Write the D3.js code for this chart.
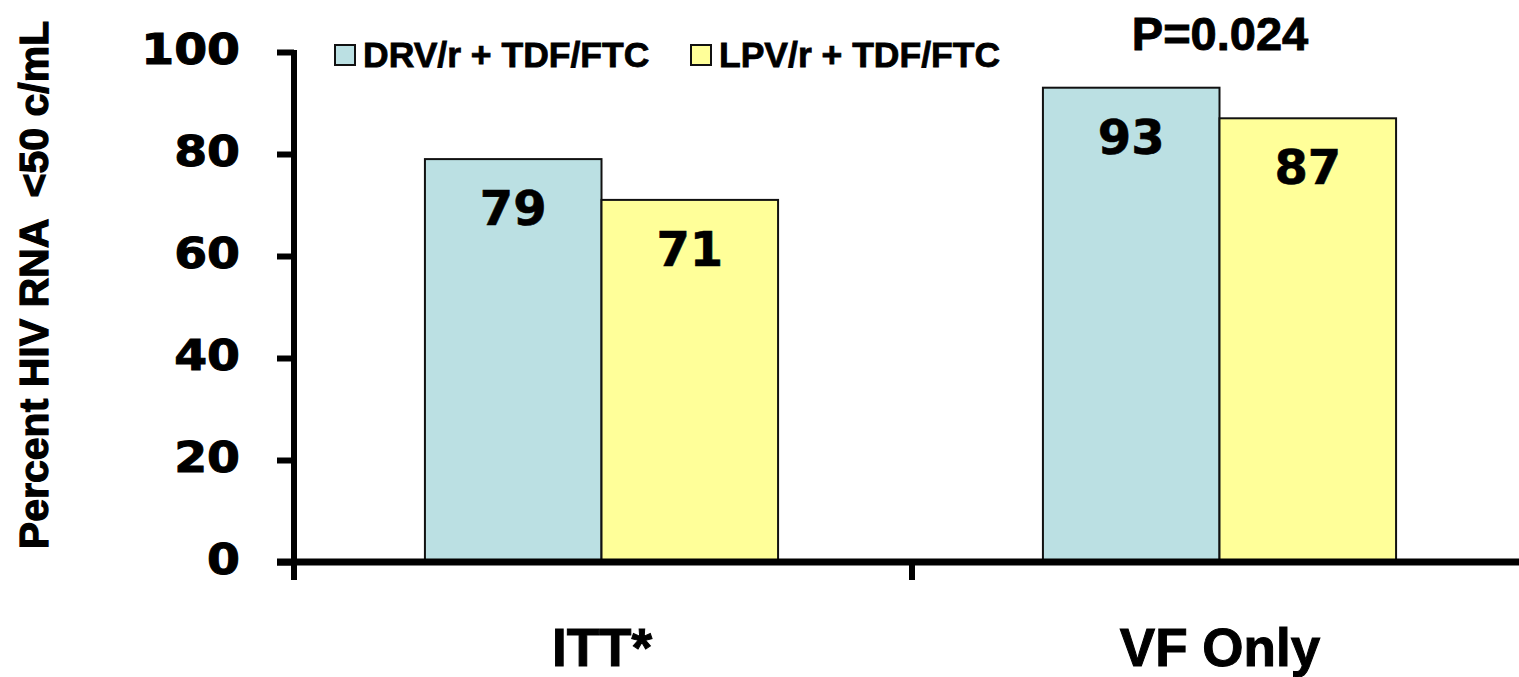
<!DOCTYPE html>
<html>
<head>
<meta charset="utf-8">
<script src="https://cdn.jsdelivr.net/npm/d3@7"></script>
<style>
  html, body { margin: 0; padding: 0; background: #ffffff; }
  svg { display: block; }
</style>
</head>
<body>
<svg id="chart" width="1519" height="677"></svg>
<script>
// Virologic response by analysis population
const categories = ["ITT*", "VF Only"];
const seriesNames = ["DRV/r + TDF/FTC", "LPV/r + TDF/FTC"];
const drvValues = [79, 93];
const lpvValues = [71, 87];
const yTicks = [0, 20, 40, 60, 80, 100];
const pValueLabel = "P=0.024";
const yTitle = "Percent HIV RNA  <50 c/mL";
const seriesColors = ["#BBE0E3", "#FFFF99"];

const svg = d3.select("#chart");

const y = d3.scaleLinear().domain([0, 100]).range([562, 52]);
const x = d3.scaleBand().domain(categories).range([294, 1530]).paddingInner(0).paddingOuter(0);
const xInner = d3.scaleBand().domain(seriesNames).range([0, x.bandwidth()]).paddingInner(0).paddingOuter(0.75);

const rows = categories.map((c, i) => ({
  category: c,
  values: [
    { series: seriesNames[0], value: drvValues[i], color: seriesColors[0] },
    { series: seriesNames[1], value: lpvValues[i], color: seriesColors[1] }
  ]
}));

// Bars
const groups = svg.append("g").selectAll("g")
  .data(rows).join("g")
  .attr("transform", d => `translate(${x(d.category) - 1.5},0)`);

groups.selectAll("rect")
  .data(d => d.values).join("rect")
  .attr("x", d => xInner(d.series))
  .attr("y", d => y(d.value))
  .attr("width", xInner.bandwidth())
  .attr("height", d => y(0) - y(d.value))
  .attr("fill", d => d.color)
  .attr("stroke", "#111")
  .attr("stroke-width", 2);

// Value labels inside bars
groups.selectAll("text.val")
  .data(d => d.values).join("text")
  .attr("class", "val")
  .attr("x", d => xInner(d.series) + xInner.bandwidth() / 2)
  .attr("y", d => y(d.value) + 66)
  .attr("text-anchor", "middle")
  .style("font-family", "'DejaVu Sans', sans-serif")
  .style("font-weight", "bold")
  .style("font-size", "48px")
  .attr("fill", "#000")
  .attr("stroke", "#000").attr("stroke-width", 0.6)
  .text(d => d.value);

// Y axis
const yAxis = d3.axisLeft(y).tickValues(yTicks).tickSize(17).tickSizeOuter(0).tickPadding(9);
const gy = svg.append("g").attr("transform", "translate(294,0)").call(yAxis);
gy.select(".domain").remove();
gy.selectAll(".tick line").attr("stroke", "#000").attr("stroke-width", 6);
gy.selectAll(".tick text")
  .attr("x", 0)
  .attr("dy", null)
  .attr("dominant-baseline", "central")
  .attr("transform", "translate(-54,-3) scale(1.1,1)")
  .style("font-family", "'DejaVu Sans', sans-serif")
  .style("font-weight", "bold")
  .style("font-size", "43px")
  .attr("fill", "#000")
  .attr("stroke", "#000").attr("stroke-width", 1);

// Axis lines
svg.append("line")
  .attr("x1", 294).attr("x2", 294)
  .attr("y1", y(100) - 2).attr("y2", y(0) + 18)
  .attr("stroke", "#000").attr("stroke-width", 6);
svg.append("line")
  .attr("x1", 277).attr("x2", 1519)
  .attr("y1", y(0)).attr("y2", y(0))
  .attr("stroke", "#000").attr("stroke-width", 7);

// X axis: category boundary ticks and labels
const boundaries = [x.range()[0], x(categories[1]), x.range()[1]];
svg.append("g").selectAll("line")
  .data(boundaries).join("line")
  .attr("x1", d => d).attr("x2", d => d)
  .attr("y1", y(0)).attr("y2", y(0) + 18)
  .attr("stroke", "#000").attr("stroke-width", 6);

svg.append("g").selectAll("text")
  .data(categories).join("text")
  .attr("x", d => x(d) + x.bandwidth() / 2 - 1)
  .attr("y", 666)
  .attr("text-anchor", "middle")
  .style("font-family", "'Liberation Sans', Arial, sans-serif")
  .style("font-weight", "bold")
  .style("font-size", "53px")
  .attr("fill", "#000")
  .attr("stroke", "#000").attr("stroke-width", 1)
  .text(d => d);

// P value annotation above the second group
svg.append("text")
  .attr("x", x(categories[1]) + x.bandwidth() / 2 - 1)
  .attr("y", 50)
  .attr("text-anchor", "middle")
  .style("font-family", "'Liberation Sans', Arial, sans-serif")
  .style("font-weight", "bold")
  .style("font-size", "47px")
  .attr("fill", "#000")
  .attr("stroke", "#000").attr("stroke-width", 0.9)
  .text(pValueLabel);

// Y axis title
svg.append("text")
  .attr("transform", "translate(48,285) rotate(-90)")
  .attr("text-anchor", "middle")
  .style("font-family", "'Liberation Sans', Arial, sans-serif")
  .style("font-weight", "bold")
  .style("font-size", "41px")
  .style("white-space", "pre")
  .attr("xml:space", "preserve")
  .attr("fill", "#000")
  .attr("stroke", "#000").attr("stroke-width", 1.2)
  .text(yTitle);

// Legend
const legendX = [335, 691];
const legend = svg.append("g").selectAll("g")
  .data(seriesNames).join("g")
  .attr("transform", (d, i) => `translate(${legendX[i]},45)`);
legend.append("rect")
  .attr("width", 20).attr("height", 20)
  .attr("fill", (d, i) => seriesColors[i])
  .attr("stroke", "#111").attr("stroke-width", 2);
legend.append("text")
  .attr("x", 28).attr("y", 22)
  .style("font-family", "'Liberation Sans', Arial, sans-serif")
  .style("font-weight", "bold")
  .style("font-size", "35.5px")
  .attr("fill", "#000")
  .attr("stroke", "#000").attr("stroke-width", 0.8)
  .text(d => d);
</script>
</body>
</html>
